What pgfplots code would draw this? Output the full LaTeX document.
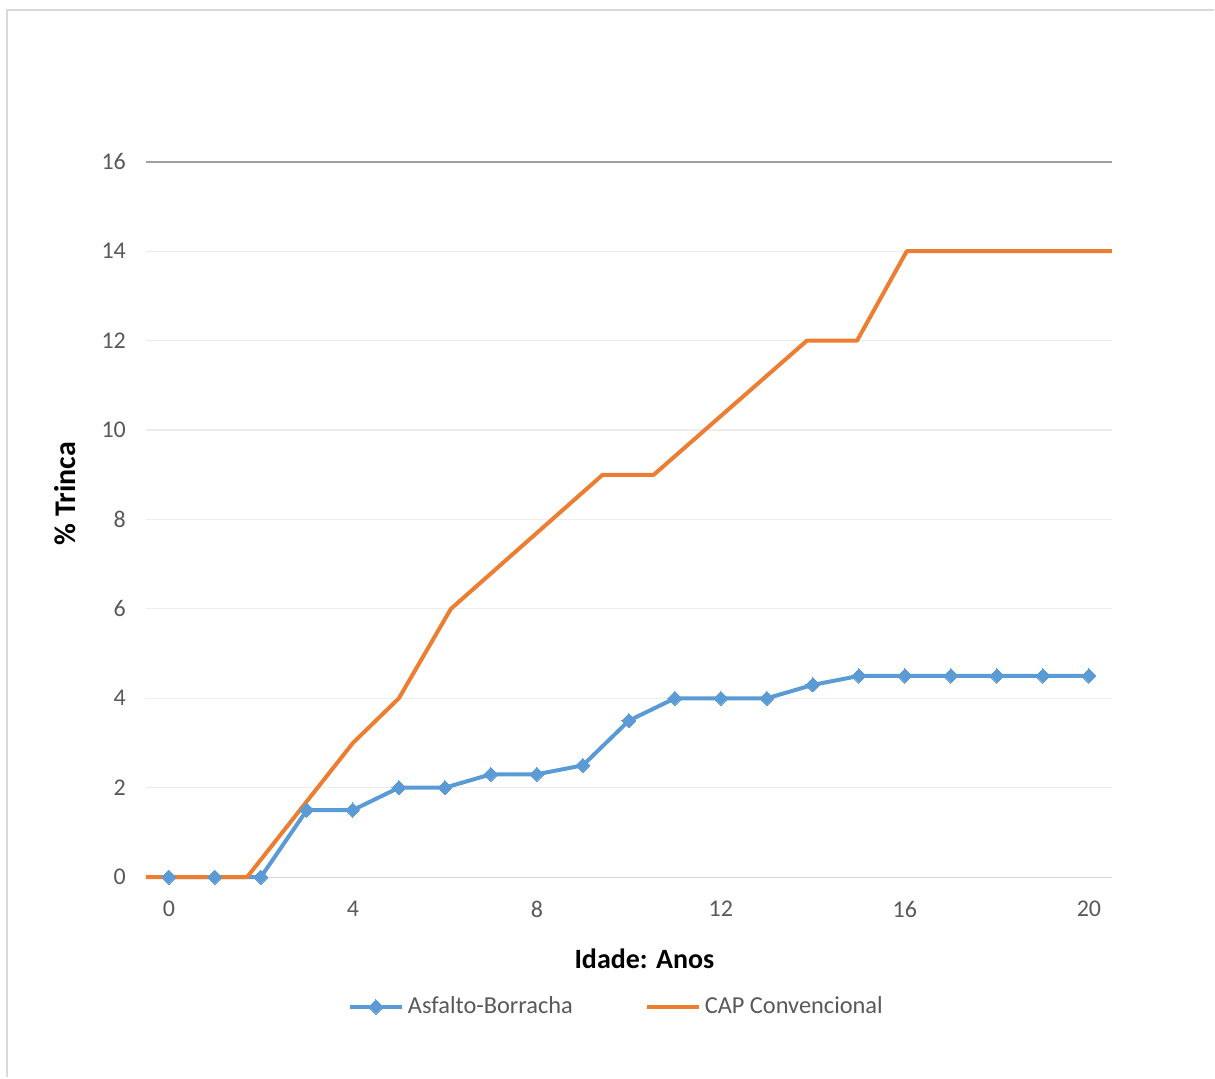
\documentclass[border=0pt]{standalone}
\usepackage{pgfplots}
\pgfplotsset{compat=1.18}
\usepackage{fontspec}
\setmainfont{Carlito}

\definecolor{serieblue}{HTML}{5B9BD5}
\definecolor{serieorange}{HTML}{ED7D31}
\definecolor{ticktext}{HTML}{595959}
\definecolor{gridgray}{HTML}{EDEDED}
\definecolor{framegray}{HTML}{D9D9D9}

\begin{document}
\begin{tikzpicture}[x=0.5pt,y=0.5pt]
  % chart area with its thin frame (left and top edges)
  \fill[white] (0,0) rectangle (1215,1078);
  \draw[framegray, line width=1.2pt] (7,0) -- (7,1068) -- (1215,1068);

  \begin{axis}[
    at={(73pt,100pt)}, anchor=south west,
    scale only axis,
    width=483.5pt, height=358pt,
    xmin=-0.5, xmax=20.5,
    ymin=0, ymax=16,
    xtick={0,4,...,20},
    ytick={0,2,...,16},
    axis line style={draw=none},
    axis x line*=bottom,
    axis y line*=left,
    major tick length=0pt,
    ymajorgrids,
    grid style={gridgray, line width=0.6pt},
    /pgf/number format/assume math mode=true,
    tick label style={font=\fontsize{12}{14}\selectfont, text=ticktext},
    xticklabel style={yshift=-8.5pt},
    yticklabel style={xshift=-6.5pt},
    xlabel={Idade: Anos},
    ylabel={\% Trinca},
    label style={font=\fontsize{14}{16}\selectfont\bfseries, text=black},
    xlabel style={at={([xshift=7.75pt,yshift=-41pt]axis description cs:0.5,0)}, anchor=center},
    ylabel style={at={([xshift=-40.5pt,yshift=13pt]axis description cs:0,0.5)}, anchor=center,
      font=\fontsize{15}{17}\selectfont\bfseries},
    legend columns=2,
    legend style={draw=none, fill=none,
      at={([xshift=-5.75pt,yshift=-65pt]axis description cs:0.5,0)}, anchor=center,
      font=\fontsize{12.2}{15}\selectfont, text=ticktext,
      /tikz/every even column/.append style={column sep=34pt}},
    legend cell align=left,
    legend image code/.code={
      \draw[#1] (0pt,0pt) -- (26pt,0pt);
      \path[#1, draw=none] plot coordinates {(13pt,0pt)};
    },
    clip=false,
  ]
    % horizontal axis line and the darker top gridline
    \draw[gridgray!80!gray, line width=0.6pt] (axis cs:-0.5,0) -- (axis cs:20.5,0);
    \draw[gray!75, line width=0.8pt] (axis cs:-0.5,16) -- (axis cs:20.5,16);

    \addplot[serieblue, line width=2pt, line join=round, mark=square*,
      mark size=2.5pt, mark options={rotate=45, fill=serieblue, draw=serieblue, line width=0pt}]
      coordinates {
        (0,0) (1,0) (2,0) (3,1.5) (4,1.5) (5,2) (6,2) (7,2.3) (8,2.3)
        (9,2.5) (10,3.5) (11,4) (12,4) (13,4) (14,4.3) (15,4.5) (16,4.5)
        (17,4.5) (18,4.5) (19,4.5) (20,4.5)
      };
    \addlegendentry{Asfalto-Borracha}

    \addplot[serieorange, line width=2pt, line join=round, no marks]
      coordinates {
        (-0.5,0) (1.7,0) (4,3) (5,4) (6.13,6) (9.43,9) (10.54,9)
        (13.87,12) (14.96,12) (16.04,14) (20.5,14)
      };
    \addlegendentry{CAP Convencional}
  \end{axis}
\end{tikzpicture}
\end{document}
